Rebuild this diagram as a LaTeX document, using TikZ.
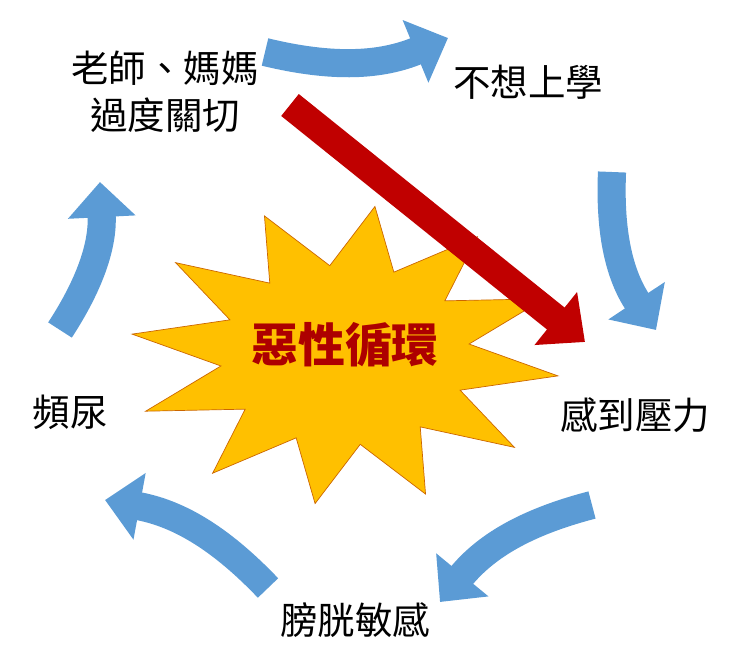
\documentclass[tikz,border=0pt]{standalone}
\usepackage{fontspec}
\newfontfamily\cjk{Noto Sans CJK TC}
\usetikzlibrary{arrows.meta}
\definecolor{cycleblue}{HTML}{5B9BD5}
\definecolor{stargold}{HTML}{FFC000}
\definecolor{deepred}{HTML}{C00000}
\begin{document}
\begin{tikzpicture}[
    x=0.03cm, y=-0.03cm,
    steptext/.style={font=\cjk\fontsize{32}{40}\selectfont, text=black},
    cyclearrow/.style={-{Triangle[width=56pt, length=30pt]}, line width=24pt, draw=cycleblue},
    hotarrow/.style={-{Triangle[width=56pt, length=32pt]}, line width=24pt, draw=deepred}
]
\useasboundingbox (0,0) rectangle (736,649);

% === star in the middle ===
\fill[stargold, draw=orange!80!black, line width=0.6pt]
  plot[domain=0:23, samples=24]
  ({345+(mod(\x,2)==0 ? 215 : 125)*cos(\x*15+8)},{355+(mod(\x,2)==0 ? 150 : 90)*sin(\x*15+8)}) -- cycle;
\node[font=\cjk\bfseries\fontsize{40}{46}\selectfont, text=deepred!90!black] (core) at (345,345) {惡性循環};

% === the five steps ===
\node[steptext, align=center] (care) at (165,92) {老師、媽媽\\過度關切};
\node[steptext] (school) at (528,82) {不想上學};
\node[steptext] (stress) at (635,415) {感到壓力};
\node[steptext] (bladder) at (355,620) {膀胱敏感};
\node[steptext] (often) at (70,412) {頻尿};

% === arrow ends ===
\coordinate (a1) at (265,52);  \coordinate (b1) at (448,38);
\coordinate (a2) at (612,172); \coordinate (b2) at (656,330);
\coordinate (a3) at (592,505); \coordinate (b3) at (440,602);
\coordinate (a4) at (268,588); \coordinate (b4) at (105,500);
\coordinate (a5) at (60,330);  \coordinate (b5) at (100,182);
\coordinate (r1) at (290,105); \coordinate (r2) at (585,342);

% === cycle arrows ===
\draw[cyclearrow] (a1) to[bend right=18] (b1);
\draw[cyclearrow] (a2) to[bend right=18] (b2);
\draw[cyclearrow] (a3) to[bend right=18] (b3);
\draw[cyclearrow] (a4) to[bend right=18] (b4);
\draw[cyclearrow] (a5) to[bend right=18] (b5);

% === pressure arrow ===
\draw[hotarrow] (r1) -- (r2);
\end{tikzpicture}
\end{document}
